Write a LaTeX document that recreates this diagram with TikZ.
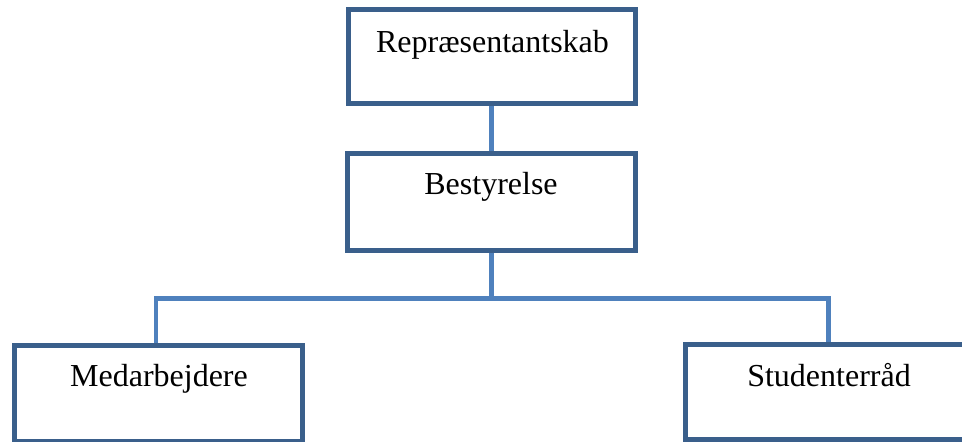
\documentclass[tikz,border=0pt]{standalone}
\usepackage{fontspec}
\setmainfont{Liberation Serif}
\usetikzlibrary{backgrounds}
\definecolor{boxline}{HTML}{3A5F8B}
\definecolor{connline}{HTML}{4F81BD}
\tikzset{
  box/.style={draw=boxline, line width=5pt, fill=white, rectangle, inner sep=0pt, outer sep=0pt},
  lbl/.style={anchor=base, inner sep=0pt, font=\fontsize{32pt}{38pt}\selectfont, text=black},
  conn/.style={draw=connline, line width=4.5pt, line join=miter}
}
\begin{document}
\begin{tikzpicture}[x=1pt,y=-1pt]
\useasboundingbox (0,0) rectangle (962,442);
\node[box, minimum width=287pt, minimum height=94.5pt] (rep) at (492,56.25) {};
\node[box, minimum width=288pt, minimum height=96.5pt] (bes) at (491.5,201.75) {};
\node[box, minimum width=288pt, minimum height=96pt] (med) at (158,393.5) {};
\node[box, minimum width=288pt, minimum height=95pt] (stu) at (829,392) {};
\node[lbl] (repT) at (492.5,52) {Repræsentantskab};
\node[lbl] (besT) at (491,194) {Bestyrelse};
\node[lbl] (medT) at (159,386) {Medarbejdere};
\node[lbl] (stuT) at (829,386) {Studenterråd};
\coordinate (busL) at (156,298.5);
\coordinate (busR) at (828.5,298.5);
\coordinate (busM) at (491.5,298.5);
\begin{scope}[on background layer]
\fill[white] (0,0) rectangle (962,442);
\draw[conn] (491.5,0 |- rep.south) -- (491.5,0 |- bes.north);
\draw[conn] (491.5,0 |- bes.south) -- (busM);
\draw[conn] (busL |- med.north) -- (busL) -- (busR) -- (busR |- stu.north);
\end{scope}
\end{tikzpicture}
\end{document}
